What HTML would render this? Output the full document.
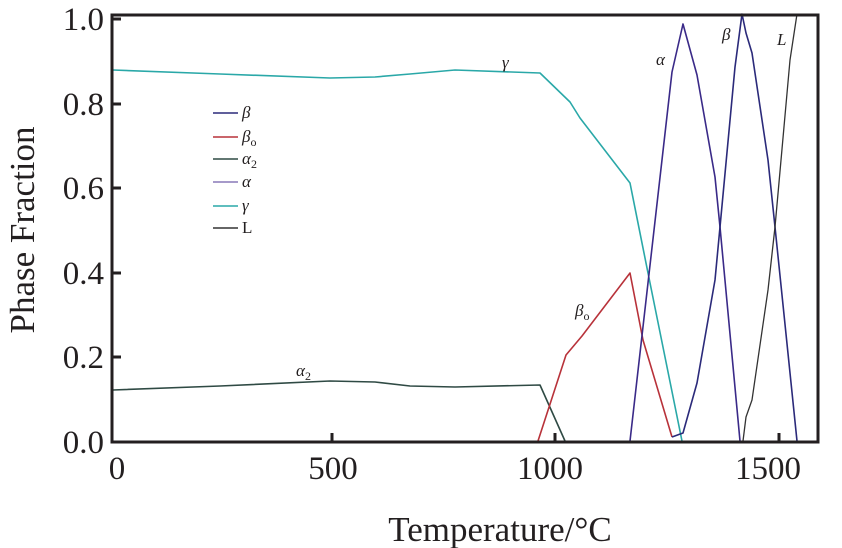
<!DOCTYPE html>
<html><head><meta charset="utf-8"><style>
html,body{margin:0;padding:0;background:#fff;}
svg{display:block;}
text{font-family:"Liberation Serif",serif;fill:#231f20;}
</style></head><body>
<svg width="842" height="548" viewBox="0 0 842 548" xmlns="http://www.w3.org/2000/svg">
<g fill="none" stroke-width="1.6" stroke-linejoin="round">
<polyline stroke="#2aa8a8" points="113,70 220,74 330,78 375,77 410,74 455,70 540,73 570,102 580,118 630,183 648,273 682,441"/>
<polyline stroke="#2f4a44" points="113,390 220,386 330,381 375,382 410,386 455,387 540,385 565,441"/>
<polyline stroke="#b8323a" points="538,441 566,355 582,336 630,273 643,340 672,437"/>
<polyline stroke="#3a2a88" points="630,441 672,72 683,24 697,75 715,177 720,227 740,441"/>
<polyline stroke="#2b2a7a" points="672,437 683,433 697,383 715,280 720,227 735,67 742,14 746,33 752,53 768,160 775,227 797,441"/>
<polyline stroke="#333" stroke-width="1.3" points="743,441 746,417 752,400 768,290 775,227 790,60 797,14"/>
</g>
<rect x="112" y="15" width="706" height="427" fill="none" stroke="#231f20" stroke-width="3"/>
<g stroke="#231f20" stroke-width="3">
<line x1="112" y1="19" x2="121" y2="19"/><line x1="112" y1="104" x2="121" y2="104"/>
<line x1="112" y1="188" x2="121" y2="188"/><line x1="112" y1="273" x2="121" y2="273"/>
<line x1="112" y1="357" x2="121" y2="357"/>
<line x1="332" y1="442" x2="332" y2="433"/><line x1="555" y1="442" x2="555" y2="433"/><line x1="779" y1="442" x2="779" y2="433"/>
</g>
<g font-size="33" text-anchor="end">
<text x="104" y="30">1.0</text><text x="104" y="115">0.8</text><text x="104" y="199">0.6</text>
<text x="104" y="284">0.4</text><text x="104" y="368">0.2</text><text x="104" y="453">0.0</text>
</g>
<g font-size="33" text-anchor="middle">
<text x="117" y="479">0</text><text x="333" y="479">500</text><text x="550" y="479">1000</text><text x="768" y="479">1500</text>
</g>
<g font-size="35" text-anchor="middle">
<text x="500" y="541">Temperature/°C</text>
<text transform="translate(34,230) rotate(-90)">Phase Fraction</text>
</g>
<g font-size="17" font-style="italic">
<text x="502" y="68">γ</text>
<text x="296" y="376">α<tspan font-size="12" dy="4" font-style="normal">2</tspan></text>
<text x="575" y="316">β<tspan font-size="12" dy="4" font-style="normal">o</tspan></text>
<text x="656" y="65">α</text>
<text x="722" y="40">β</text>
<text x="777" y="45">L</text>
</g>
<g stroke-width="1.6">
<line x1="213" y1="113" x2="238" y2="113" stroke="#2b2a7a"/>
<line x1="213" y1="137" x2="238" y2="137" stroke="#b8323a"/>
<line x1="213" y1="159" x2="238" y2="159" stroke="#2f4a44"/>
<line x1="213" y1="182" x2="238" y2="182" stroke="#8878b8"/>
<line x1="213" y1="206" x2="238" y2="206" stroke="#2aa8a8"/>
<line x1="213" y1="228" x2="238" y2="228" stroke="#333"/>
</g>
<g font-size="17">
<text x="242" y="118" font-style="italic">β</text>
<text x="242" y="142" font-style="italic">β<tspan font-size="12" dy="4" font-style="normal">o</tspan></text>
<text x="242" y="164" font-style="italic">α<tspan font-size="12" dy="4" font-style="normal">2</tspan></text>
<text x="242" y="187" font-style="italic">α</text>
<text x="242" y="211" font-style="italic">γ</text>
<text x="242" y="233">L</text>
</g>
</svg>
</body></html>
